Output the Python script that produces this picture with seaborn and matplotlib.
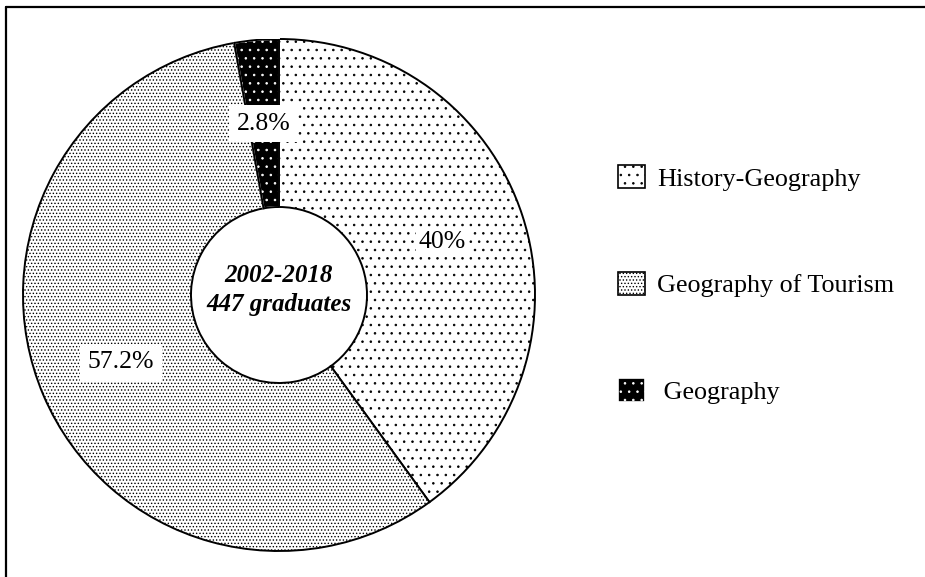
import seaborn as sns
import matplotlib.pyplot as plt
import matplotlib.patches as mpatches
from matplotlib.lines import Line2D

# Data
programs = ['History-Geography', 'Geography of Tourism', 'Geography']
shares = [40, 57.2, 2.8]
legend_labels = ['History-Geography', 'Geography of Tourism', ' Geography']
center_text = '2002-2018\n447 graduates'

# Fill styles (face colour, hatch, hatch colour)
faces = ['white', 'white', 'black']
hatches = ['..', '.....', '..']
hatch_colors = ['black', 'black', 'white']
label_pads = [0.1, 0.3, 0.3]

sns.set_theme(style='white')
plt.rcParams['font.family'] = ['Liberation Serif', 'DejaVu Serif']
plt.rcParams['text.color'] = 'black'
plt.rcParams['hatch.linewidth'] = 0.6

W, H = 925, 577
fig = plt.figure(figsize=(W / 100, H / 100), dpi=100)
fig.patch.set_facecolor('white')

# donut axes: centre (279, 295) px from top-left, outer radius 256 px
R = 256
cx, cy = 279, H - 295
ax = fig.add_axes([(cx - R) / W, (cy - R) / H, 2 * R / W, 2 * R / H])

def fmt(p):
    return f'{round(p, 1):g}%'

wedges, _, autotexts = ax.pie(shares, startangle=90, counterclock=False,
                              radius=1, autopct=fmt, pctdistance=0.672,
                              wedgeprops=dict(width=1 - 88 / R, linewidth=1.4),
                              textprops=dict(fontsize=18.5, color='black'))

for w, fc, h, hc in zip(wedges, faces, hatches, hatch_colors):
    w.set_facecolor(fc)
    w.set_hatch(h)
    w.set_edgecolor(hc)
    if hc != 'black':
        # black outline on top of the white-hatched wedge
        outline = mpatches.Wedge(w.center, w.r, w.theta1, w.theta2, width=w.width,
                                 facecolor='none', edgecolor='black', linewidth=1.4)
        ax.add_patch(outline)

for t, p in zip(autotexts, label_pads):
    t.set_bbox(dict(boxstyle=f'square,pad={p}', facecolor='white', edgecolor='none'))

ax.text(0, 0.02, center_text, ha='center', va='center', fontsize=18, color='black',
        fontweight='bold', fontstyle='italic', linespacing=1.3)

ax.set_xlim(-1, 1)
ax.set_ylim(-1, 1)
ax.set_aspect('equal')
ax.axis('off')

# legend on the right
handles = [mpatches.Patch(facecolor=fc, hatch=h, edgecolor=hc, linewidth=1.2)
           for fc, h, hc in zip(faces, hatches, hatch_colors)]
leg = fig.legend(handles, legend_labels, loc='center left',
                 bbox_to_anchor=(618 / W, 1 - 284.5 / H), frameon=False,
                 fontsize=18.8, handlelength=1.05, handleheight=1.0,
                 handletextpad=0.45, labelspacing=3.1, borderpad=0, borderaxespad=0)
for t in leg.get_texts():
    t.set_color('black')

# frame around the picture (right and bottom edges fall outside)
fig.add_artist(Line2D([5.5 / W, 5.5 / W], [0, 1 - 6.5 / H], transform=fig.transFigure,
                      color='black', linewidth=1.6))
fig.add_artist(Line2D([5.5 / W, 1], [1 - 6.5 / H, 1 - 6.5 / H], transform=fig.transFigure,
                      color='black', linewidth=1.6))

fig.savefig('out.png', dpi=100, facecolor='white')
